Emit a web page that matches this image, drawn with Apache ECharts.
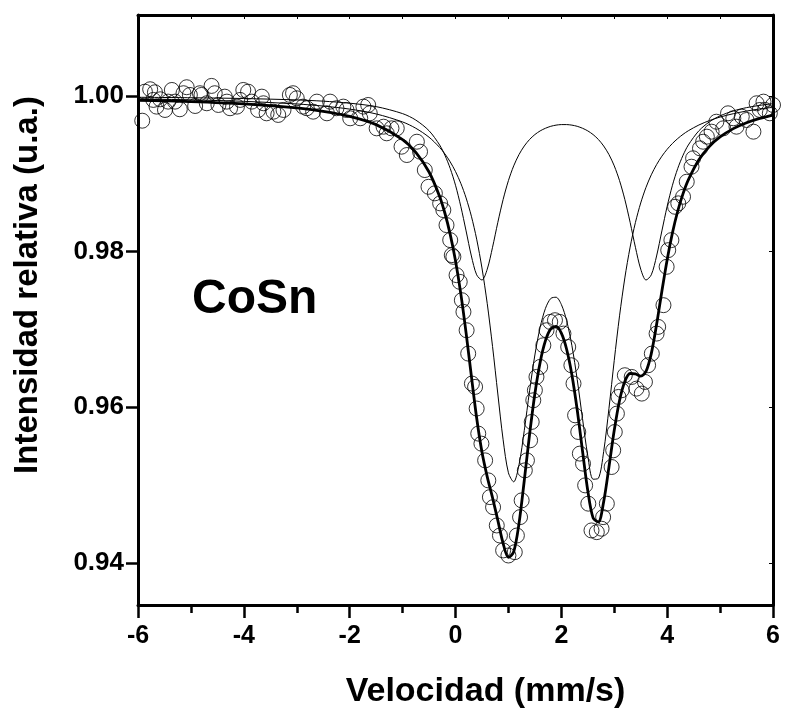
<!DOCTYPE html>
<html>
<head>
<meta charset="utf-8">
<script src="https://cdn.jsdelivr.net/npm/echarts@6/dist/echarts.min.js"></script>
<style>
  html, body { margin: 0; padding: 0; background: #fff; }
  #chart { width: 787px; height: 720px; }
</style>
</head>
<body>
<div id="chart"></div>
<script>
// Mössbauer spectrum of CoSn: measured points, total fit and two quadrupole doublets

// measured spectrum (mm/s, relative intensity)
const velocity = [
  -5.92, -5.87, -5.77, -5.71, -5.68, -5.65, -5.58, -5.49, -5.43, -5.36, -5.30, -5.21, -5.14, -5.08, -5.02,
  -4.92, -4.83, -4.80, -4.70, -4.61, -4.55, -4.48, -4.36, -4.32, -4.26, -4.13, -4.07, -4.01,
  -3.92, -3.85, -3.73, -3.66, -3.63, -3.57, -3.44, -3.35, -3.25, -3.13, -3.07, -3.00,
  -2.88, -2.81, -2.69, -2.62, -2.43, -2.37, -2.25, -2.12, -2.06,
  -1.99, -1.80, -1.74, -1.65, -1.62, -1.49, -1.36, -1.30, -1.21, -1.11, -1.02,
  -0.92, -0.73, -0.67, -0.58, -0.51, -0.39, -0.29, -0.23, -0.17, -0.10, -0.07, -0.04,
  0.02, 0.08, 0.12, 0.15, 0.21, 0.24, 0.31, 0.37, 0.40, 0.43, 0.49, 0.56, 0.62, 0.65, 0.71, 0.78, 0.84, 0.90,
  1.00, 1.12, 1.16, 1.22, 1.25, 1.31, 1.35, 1.41, 1.44, 1.47, 1.50, 1.53, 1.60, 1.66, 1.72, 1.79, 1.88, 1.97,
  2.04, 2.13, 2.19, 2.23, 2.26, 2.32, 2.35, 2.41, 2.45, 2.51, 2.57, 2.67, 2.76, 2.79, 2.86, 2.95, 2.98,
  3.01, 3.05, 3.08, 3.14, 3.20, 3.33, 3.42, 3.52, 3.58, 3.64, 3.71, 3.80, 3.83, 3.93, 3.99,
  4.02, 4.08, 4.15, 4.21, 4.30, 4.37, 4.46, 4.49, 4.62, 4.68, 4.75, 4.84, 4.93,
  5.06, 5.15, 5.25, 5.31, 5.41, 5.50, 5.63, 5.69, 5.75, 5.82, 5.85, 5.94, 6.00
];
const intensity = [
  0.99682, 1.00055, 1.00086, 0.99949, 1.00047, 0.99863, 0.99957, 0.99820, 0.99927, 1.00077, 0.99927, 0.99829, 1.00035, 1.00112, 1.00013,
  0.99871, 1.00035, 1.00013, 0.99906, 1.00129, 1.00035, 0.99884, 0.99991, 0.99927, 0.99842, 0.99863, 0.99949, 1.00077,
  1.00055, 0.99927, 0.99820, 0.99991, 0.99906, 0.99777, 0.99798, 0.99756, 0.99820, 1.00013, 1.00035, 0.99970,
  0.99863, 0.99842, 0.99798, 0.99927, 0.99777, 0.99927, 0.99842, 0.99863, 0.99820,
  0.99713, 0.99713, 0.99863, 0.99884, 0.99777, 0.99584, 0.99605, 0.99520, 0.99584, 0.99584, 0.99348,
  0.99241, 0.99412, 0.99284, 0.99048, 0.98833, 0.98749, 0.98620, 0.98534, 0.98341, 0.98148, 0.97955, 0.97933,
  0.97698, 0.97612, 0.97376, 0.97226, 0.96990, 0.96690, 0.96305, 0.96262, 0.95984, 0.95662, 0.95533, 0.95318, 0.95061, 0.94846, 0.94717, 0.94482, 0.94353, 0.94161,
  0.94096, 0.94139, 0.94353, 0.94589, 0.94804, 0.95190, 0.95318, 0.95576, 0.95812, 0.96090, 0.96219, 0.96390, 0.96519, 0.96797, 0.96990, 0.97097, 0.97119, 0.97097,
  0.96947, 0.96775, 0.96540, 0.96305, 0.95897, 0.95683, 0.95405, 0.95276, 0.94997, 0.94762, 0.94418, 0.94396, 0.94440, 0.94589, 0.94762, 0.95233, 0.95447,
  0.95683, 0.95919, 0.96133, 0.96219, 0.96412, 0.96390, 0.96240, 0.96176, 0.96326, 0.96540, 0.96690, 0.96947, 0.97033, 0.97312, 0.97805,
  0.98019, 0.98148, 0.98576, 0.98620, 0.98705, 0.98898, 0.99091, 0.99199, 0.99327, 0.99412, 0.99477, 0.99541, 0.99669,
  0.99584, 0.99777, 0.99713, 0.99605, 0.99734, 0.99691, 0.99541, 0.99906, 0.99820, 0.99927, 0.99820, 0.99777, 0.99884
];

// velocities at which the fitted curves are tabulated
const fitVelocity = [
  -6, -5, -4, -3, -2.5, -2, -1.5, -1, -0.75, -0.5, -0.3, -0.2, -0.1,
  0, 0.1, 0.2, 0.3, 0.4, 0.5, 0.6, 0.7, 0.8, 0.9,
  1.0, 1.1, 1.2, 1.3, 1.4, 1.5, 1.6, 1.7, 1.8, 1.9,
  2.0, 2.1, 2.2, 2.3, 2.4, 2.5, 2.6, 2.7, 2.8, 2.9,
  3.0, 3.1, 3.2, 3.3, 3.4, 3.5, 3.6, 3.7, 3.8, 3.9,
  4.0, 4.1, 4.2, 4.3, 4.4, 4.6, 4.8, 5.0, 5.25, 5.5, 5.75, 6
];
// total fit
const fitTotal = [
  0.99945, 0.99927, 0.99898, 0.99846, 0.99803, 0.99738, 0.99632, 0.99439, 0.99275, 0.99023, 0.98709, 0.98493, 0.98222,
  0.97882, 0.97460, 0.96956, 0.96400, 0.95862, 0.95425, 0.95106, 0.94838, 0.94547, 0.94252,
  0.94071, 0.94144, 0.94507, 0.95060, 0.95652, 0.96175, 0.96580, 0.96856, 0.97007, 0.97039,
  0.96953, 0.96746, 0.96416, 0.95968, 0.95440, 0.94928, 0.94579, 0.94528, 0.94787, 0.95233,
  0.95704, 0.96088, 0.96332, 0.96434, 0.96429, 0.96400, 0.96461, 0.96689, 0.97063, 0.97492,
  0.97897, 0.98242, 0.98522, 0.98745, 0.98922, 0.99180, 0.99352, 0.99473, 0.99580, 0.99656, 0.99712, 0.99754
];
// outer doublet (weak, wide splitting)
const doubletOuter = [
  0.99983, 0.99977, 0.99967, 0.99949, 0.99933, 0.99907, 0.99863, 0.99773, 0.99690, 0.99553, 0.99370, 0.99238, 0.99069,
  0.98853, 0.98582, 0.98266, 0.97944, 0.97702, 0.97635, 0.97775, 0.98056, 0.98376, 0.98670,
  0.98912, 0.99102, 0.99247, 0.99357, 0.99441, 0.99504, 0.99551, 0.99585, 0.99610, 0.99625,
  0.99632, 0.99632, 0.99625, 0.99610, 0.99585, 0.99551, 0.99504, 0.99441, 0.99357, 0.99247,
  0.99102, 0.98912, 0.98670, 0.98376, 0.98056, 0.97775, 0.97635, 0.97702, 0.97944, 0.98266,
  0.98582, 0.98853, 0.99069, 0.99238, 0.99370, 0.99553, 0.99668, 0.99744, 0.99808, 0.99850, 0.99879, 0.99900
];
// inner doublet (strong, narrow splitting)
const doubletInner = [
  0.99962, 0.99950, 0.99931, 0.99897, 0.99870, 0.99831, 0.99769, 0.99666, 0.99585, 0.99470, 0.99339, 0.99255, 0.99153,
  0.99029, 0.98878, 0.98690, 0.98455, 0.98160, 0.97790, 0.97331, 0.96782, 0.96171, 0.95582,
  0.95159, 0.95042, 0.95260, 0.95703, 0.96212, 0.96672, 0.97029, 0.97271, 0.97398, 0.97414,
  0.97321, 0.97114, 0.96791, 0.96358, 0.95855, 0.95377, 0.95076, 0.95088, 0.95430, 0.95986,
  0.96603, 0.97175, 0.97662, 0.98058, 0.98374, 0.98625, 0.98826, 0.98987, 0.99118, 0.99226,
  0.99315, 0.99390, 0.99453, 0.99507, 0.99553, 0.99627, 0.99684, 0.99729, 0.99772, 0.99806, 0.99833, 0.99854
];

const yTicks = [0.94, 0.96, 0.98, 1.00];
const xLabel = 'Velocidad (mm/s)';
const yLabel = 'Intensidad relativa (u.a.)';
const sampleName = 'CoSn';

const FONT = '"Liberation Sans", Arial, Helvetica, sans-serif';
const zip = (xs, ys) => xs.map((x, i) => [x, ys[i]]);

const chart = echarts.init(document.getElementById('chart'), null, { renderer: 'canvas' });

const frameLine = { show: true, onZero: false, lineStyle: { color: '#000', width: 3 } };

chart.setOption({
  backgroundColor: '#fff',
  animation: false,
  grid: { left: 138, right: 14, top: 15, bottom: 115, containLabel: false },
  xAxis: [
    {
      type: 'value', min: -6, max: 6, interval: 2, position: 'bottom',
      axisLine: frameLine,
      axisTick: { show: true, inside: false, length: 13, lineStyle: { color: '#000', width: 2.5 } },
      minorTick: { show: true, splitNumber: 2, length: 8, lineStyle: { color: '#000', width: 2.5 } },
      splitLine: { show: false },
      axisLabel: { margin: 19, color: '#000', fontFamily: FONT, fontWeight: 'bold', fontSize: 25 },
      name: xLabel, nameLocation: 'middle', nameGap: 70,
      nameTextStyle: { color: '#000', fontFamily: FONT, fontWeight: 'bold', fontSize: 34, padding: [0, 0, 0, 60] }
    },
    {
      type: 'value', min: -6, max: 6, interval: 1, position: 'top',
      axisLine: frameLine,
      axisTick: { show: true, inside: true, length: 4, lineStyle: { color: '#000', width: 1 } },
      splitLine: { show: false }, axisLabel: { show: false }
    }
  ],
  yAxis: [
    {
      type: 'value', min: 0.9346, max: 1.0104, position: 'left',
      axisLine: frameLine,
      axisTick: { show: true, inside: false, length: 12, customValues: yTicks, lineStyle: { color: '#000', width: 2.5 } },
      splitLine: { show: false },
      axisLabel: {
        customValues: yTicks, margin: 14, color: '#000', fontFamily: FONT, fontWeight: 'bold', fontSize: 26,
        formatter: v => v.toFixed(2)
      },
      name: yLabel, nameLocation: 'middle', nameGap: 94, nameRotate: 90,
      nameTextStyle: { color: '#000', fontFamily: FONT, fontWeight: 'bold', fontSize: 33, padding: [0, 0, 0, 50] }
    },
    {
      type: 'value', min: 0.9346, max: 1.0104, position: 'right',
      axisLine: frameLine,
      axisTick: { show: true, inside: true, length: 4, customValues: yTicks, lineStyle: { color: '#000', width: 1 } },
      splitLine: { show: false }, axisLabel: { show: false }
    }
  ],
  graphic: [
    {
      type: 'text', left: 192, top: 276, z: 10,
      style: { text: sampleName, fill: '#000', font: 'bold 48px ' + FONT }
    }
  ],
  series: [
    {
      name: 'datos', type: 'scatter', xAxisIndex: 0, yAxisIndex: 0, z: 2,
      symbol: 'circle', symbolSize: 15,
      itemStyle: { color: 'rgba(255,255,255,0)', borderColor: '#000', borderWidth: 1 },
      data: zip(velocity, intensity)
    },
    {
      name: 'doblete externo', type: 'line', smooth: 0.3, showSymbol: false, z: 3,
      lineStyle: { color: '#000', width: 1 },
      data: zip(fitVelocity, doubletOuter)
    },
    {
      name: 'doblete interno', type: 'line', smooth: 0.3, showSymbol: false, z: 3,
      lineStyle: { color: '#000', width: 1 },
      data: zip(fitVelocity, doubletInner)
    },
    {
      name: 'ajuste', type: 'line', smooth: 0.3, showSymbol: false, z: 4,
      lineStyle: { color: '#000', width: 2.8 },
      data: zip(fitVelocity, fitTotal)
    }
  ]
});
</script>
</body>
</html>
